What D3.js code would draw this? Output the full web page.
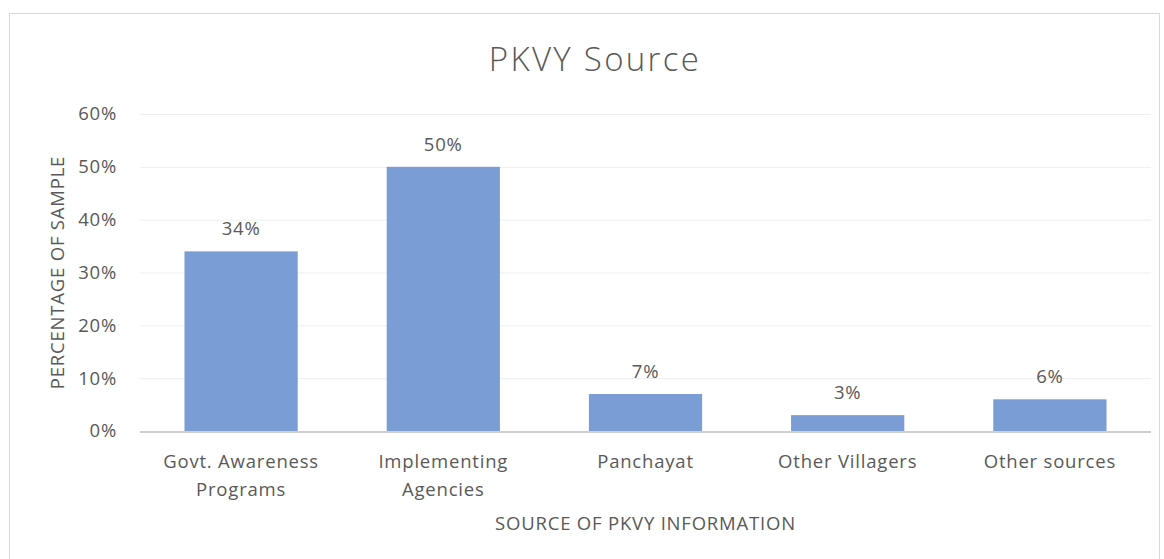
<!DOCTYPE html>
<html>
<head>
<meta charset="utf-8">
<script src="https://cdnjs.cloudflare.com/ajax/libs/d3/7.8.5/d3.min.js"></script>
<style>
  body { margin: 0; background: #fff; font-family: 'Open Sans', sans-serif; }
  svg text { fill: #595959; }
</style>
</head>
<body>
<script>
const categories = [['Govt. Awareness', 'Programs'], ['Implementing', 'Agencies'], ['Panchayat'], ['Other Villagers'], ['Other sources']];
const values = [0.34, 0.50, 0.07, 0.03, 0.06];
const yTicks = [0, 0.1, 0.2, 0.3, 0.4, 0.5, 0.6];

const width = 1164, height = 559;
const plot = { left: 140, right: 1151, top: 114, bottom: 431 };
const fontSize = '18.5px', spacing = '0.8px';

const svg = d3.select('body')
  .append('svg')
  .attr('width', width)
  .attr('height', height);

// chart border
svg.append('rect')
  .attr('x', 9.5)
  .attr('y', 13.5)
  .attr('width', 1150)
  .attr('height', 560)
  .attr('fill', 'none')
  .attr('stroke', '#d9d9d9');

const x = d3.scaleBand()
  .domain(d3.range(categories.length))
  .range([plot.left, plot.right])
  .paddingInner(0.44)
  .paddingOuter(0.22);

const y = d3.scaleLinear()
  .domain([0, 0.6])
  .range([plot.bottom, plot.top]);

// gridlines
svg.append('g')
  .selectAll('line')
  .data(yTicks.filter(d => d > 0))
  .enter()
  .append('line')
  .attr('x1', plot.left)
  .attr('x2', plot.right)
  .attr('y1', d => y(d) + 0.5)
  .attr('y2', d => y(d) + 0.5)
  .attr('stroke', '#efefef')
  .attr('stroke-width', 1);

// y tick labels
svg.append('g')
  .selectAll('text')
  .data(yTicks)
  .enter()
  .append('text')
  .attr('x', 117)
  .attr('y', d => y(d))
  .attr('dy', '0.35em')
  .attr('text-anchor', 'end')
  .style('font-size', fontSize)
  .style('letter-spacing', spacing)
  .text(d3.format('.0%'));

// bars
svg.append('g')
  .selectAll('rect')
  .data(values)
  .enter()
  .append('rect')
  .attr('x', (d, i) => x(i))
  .attr('width', x.bandwidth())
  .attr('y', d => y(d))
  .attr('height', d => y(0) - y(d))
  .attr('fill', '#7b9dd5');

// data labels
svg.append('g')
  .selectAll('text')
  .data(values)
  .enter()
  .append('text')
  .attr('x', (d, i) => x(i) + x.bandwidth() / 2)
  .attr('y', d => y(d) - 16)
  .attr('text-anchor', 'middle')
  .style('font-size', fontSize)
  .style('letter-spacing', spacing)
  .text(d3.format('.0%'));

// baseline
svg.append('line')
  .attr('x1', plot.left)
  .attr('x2', plot.right)
  .attr('y1', y(0) + 1)
  .attr('y2', y(0) + 1)
  .attr('stroke', '#d0d0d0')
  .attr('stroke-width', 2);

// category labels
const catText = svg.append('g')
  .selectAll('text')
  .data(categories)
  .enter()
  .append('text')
  .attr('text-anchor', 'middle')
  .style('font-size', fontSize)
  .style('letter-spacing', spacing);

catText.selectAll('tspan')
  .data((d, i) => d.map(line => ({ line, i })))
  .enter()
  .append('tspan')
  .attr('x', d => x(d.i) + x.bandwidth() / 2)
  .attr('y', (d, j) => 468 + j * 28)
  .text(d => d.line);

// title
svg.append('text')
  .attr('x', 595)
  .attr('y', 71)
  .attr('text-anchor', 'middle')
  .style('font-size', '33px')
  .style('font-weight', 300)
  .style('letter-spacing', '2.3px')
  .text('PKVY Source');

// axis titles
svg.append('text')
  .attr('x', (plot.left + plot.right) / 2)
  .attr('y', 530)
  .attr('text-anchor', 'middle')
  .style('font-size', fontSize)
  .style('letter-spacing', spacing)
  .text('SOURCE OF PKVY INFORMATION');

svg.append('text')
  .attr('transform', 'translate(64,' + ((plot.top + plot.bottom) / 2) + ') rotate(-90)')
  .attr('text-anchor', 'middle')
  .style('font-size', fontSize)
  .style('letter-spacing', spacing)
  .text('PERCENTAGE OF SAMPLE');
</script>
</body>
</html>
